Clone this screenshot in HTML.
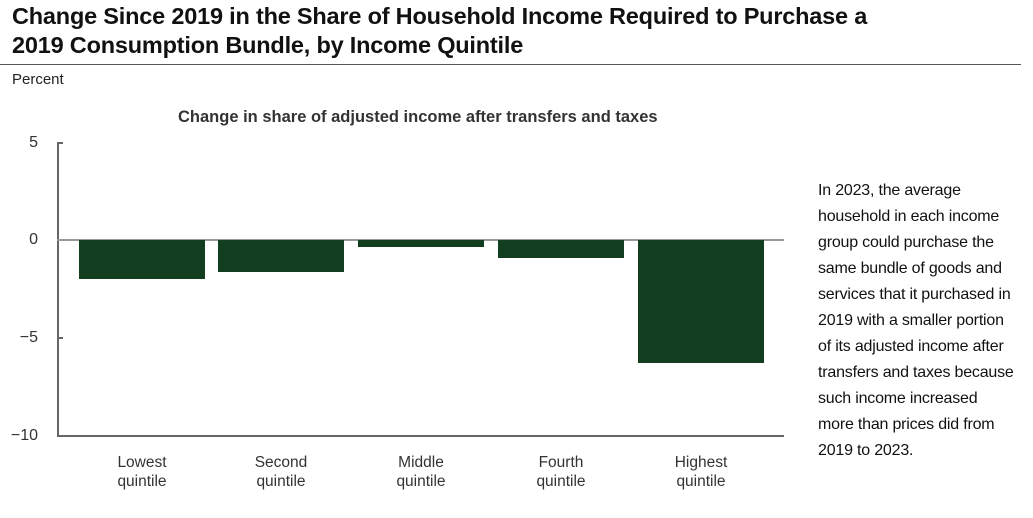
<!DOCTYPE html>
<html><head><style>
body{margin:0;width:1033px;height:518px;background:#fff;position:relative;font-family:"Liberation Sans",sans-serif;color:#222;overflow:hidden}
.t{position:absolute;left:12px;top:2px;font-size:23.5px;font-weight:bold;line-height:29px;color:#111;letter-spacing:-0.2px}
.rule{position:absolute;left:0;top:64px;width:1021px;height:1px;background:#555}
.a{position:absolute;white-space:nowrap}
.n{position:absolute;font-size:16px;color:#333;line-height:20px;text-align:right;width:30px}
.lab{position:absolute;font-size:15.5px;color:#333;text-align:center;width:126px;line-height:19px}
.bar{position:absolute;background:#133d1f}
.side{position:absolute;left:818px;top:178px;font-size:16px;line-height:26px;color:#111;width:205px;letter-spacing:-0.2px;white-space:nowrap}
</style></head><body>
<div class="t">Change Since 2019 in the Share of Household Income Required to Purchase a<br>2019 Consumption Bundle, by Income Quintile</div>
<div class="rule"></div>
<div class="a" style="left:12px;top:71px;font-size:15px">Percent</div>
<div class="a" style="left:178px;top:108px;font-size:16.5px;font-weight:bold;color:#333">Change in share of adjusted income after transfers and taxes</div>
<div class="n" style="left:8px;top:133px">5</div>
<div class="n" style="left:8px;top:230px">0</div>
<div class="n" style="left:8px;top:328px">−5</div>
<div class="n" style="left:8px;top:426px">−10</div>
<div style="position:absolute;left:57px;top:142px;width:1.5px;height:294px;background:#666"></div>
<div style="position:absolute;left:57px;top:142px;width:6px;height:1.5px;background:#666"></div>
<div style="position:absolute;left:57px;top:337px;width:6px;height:1.5px;background:#666"></div>
<div style="position:absolute;left:57px;top:435px;width:727px;height:1.5px;background:#666"></div>
<div style="position:absolute;left:57px;top:239px;width:727px;height:1.5px;background:#999"></div>
<div class="bar" style="left:79px;top:240px;width:126px;height:39px"></div>
<div class="bar" style="left:218px;top:240px;width:126px;height:32px"></div>
<div class="bar" style="left:358px;top:240px;width:126px;height:7px"></div>
<div class="bar" style="left:498px;top:240px;width:126px;height:18px"></div>
<div class="bar" style="left:638px;top:240px;width:126px;height:123px"></div>
<div class="lab" style="left:79px;top:453px">Lowest<br>quintile</div>
<div class="lab" style="left:218px;top:453px">Second<br>quintile</div>
<div class="lab" style="left:358px;top:453px">Middle<br>quintile</div>
<div class="lab" style="left:498px;top:453px">Fourth<br>quintile</div>
<div class="lab" style="left:638px;top:453px">Highest<br>quintile</div>
<div class="side">In 2023, the average<br>household in each income<br>group could purchase the<br>same bundle of goods and<br>services that it purchased in<br>2019 with a smaller portion<br>of its adjusted income after<br>transfers and taxes because<br>such income increased<br>more than prices did from<br>2019 to 2023.</div>
</body></html>
